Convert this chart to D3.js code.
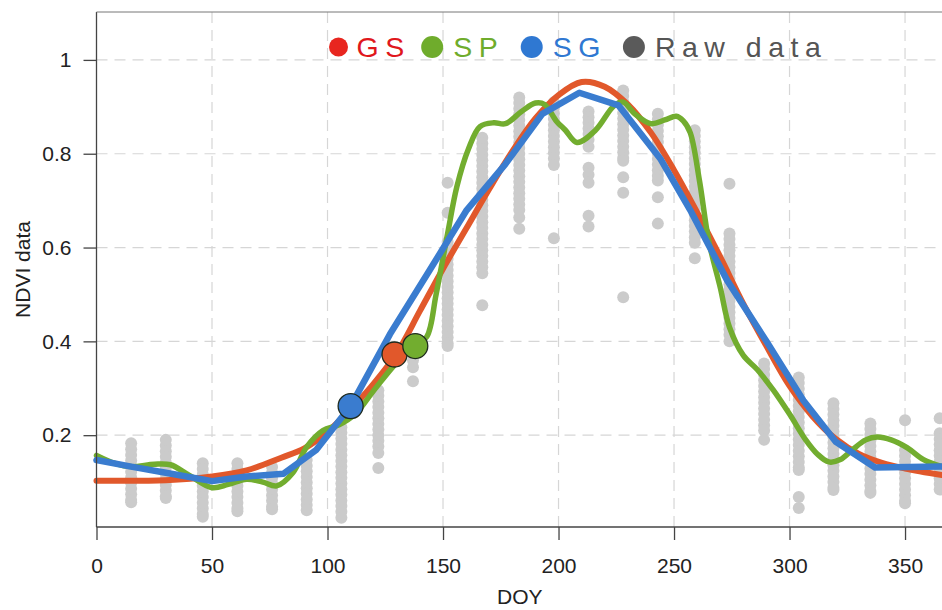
<!DOCTYPE html>
<html>
<head>
<meta charset="utf-8">
<script src="https://cdn.jsdelivr.net/npm/d3@7"></script>
<style>
  body { margin: 0; background: #fff; }
  text { font-family: "Liberation Sans", Arial, sans-serif; }
</style>
</head>
<body>
<div id="chart"></div>
<script>
// DATA

// raw NDVI observations, one column per composite day
var rawDoy = [15, 30, 46, 61, 76, 91, 106, 122, 137, 152, 167, 183, 198, 213, 228, 243, 259, 274, 289, 304, 319, 335, 350, 365];
var rawNdvi = [
  [0.183, 0.17, 0.158, 0.146, 0.134, 0.122, 0.11, 0.098, 0.086, 0.074, 0.062, 0.057],
  [0.19, 0.178, 0.166, 0.154, 0.142, 0.13, 0.118, 0.106, 0.094, 0.082, 0.07, 0.066],
  [0.14, 0.128, 0.116, 0.104, 0.092, 0.08, 0.068, 0.056, 0.044, 0.032, 0.026],
  [0.14, 0.128, 0.116, 0.104, 0.092, 0.08, 0.068, 0.056, 0.044, 0.038],
  [0.132, 0.12, 0.108, 0.096, 0.084, 0.072, 0.06, 0.048, 0.042],
  [0.147, 0.135, 0.123, 0.111, 0.099, 0.087, 0.075, 0.063, 0.051, 0.04],
  [0.217, 0.205, 0.193, 0.181, 0.169, 0.157, 0.145, 0.133, 0.121, 0.109, 0.097, 0.085, 0.073, 0.061, 0.049, 0.037, 0.024],
  [0.296, 0.284, 0.272, 0.26, 0.248, 0.236, 0.224, 0.212, 0.2, 0.188, 0.176, 0.162, 0.13],
  [0.36, 0.345, 0.315],
  [0.738, 0.674, 0.612, 0.6, 0.588, 0.576, 0.564, 0.552, 0.54, 0.528, 0.516, 0.504, 0.492, 0.48, 0.468, 0.456, 0.444, 0.432, 0.42, 0.408, 0.396, 0.39],
  [0.834, 0.822, 0.81, 0.798, 0.786, 0.774, 0.762, 0.75, 0.738, 0.726, 0.714, 0.702, 0.69, 0.678, 0.666, 0.654, 0.642, 0.63, 0.618, 0.606, 0.594, 0.582, 0.57, 0.558, 0.545, 0.477],
  [0.92, 0.908, 0.896, 0.884, 0.872, 0.86, 0.848, 0.836, 0.824, 0.812, 0.8, 0.788, 0.776, 0.764, 0.752, 0.74, 0.728, 0.716, 0.704, 0.692, 0.68, 0.664, 0.64],
  [0.91, 0.898, 0.886, 0.874, 0.862, 0.85, 0.838, 0.826, 0.814, 0.802, 0.79, 0.776, 0.62],
  [0.89, 0.878, 0.866, 0.854, 0.842, 0.83, 0.815, 0.77, 0.755, 0.738, 0.668, 0.645],
  [0.935, 0.923, 0.911, 0.899, 0.887, 0.875, 0.863, 0.851, 0.839, 0.827, 0.815, 0.803, 0.791, 0.785, 0.75, 0.717, 0.494],
  [0.885, 0.873, 0.861, 0.849, 0.837, 0.825, 0.813, 0.801, 0.789, 0.777, 0.765, 0.753, 0.743, 0.707, 0.651],
  [0.85, 0.838, 0.826, 0.814, 0.802, 0.79, 0.778, 0.766, 0.754, 0.742, 0.73, 0.718, 0.706, 0.694, 0.682, 0.67, 0.658, 0.646, 0.634, 0.622, 0.61, 0.577],
  [0.736, 0.63, 0.618, 0.606, 0.594, 0.582, 0.57, 0.558, 0.546, 0.534, 0.522, 0.51, 0.498, 0.486, 0.474, 0.462, 0.45, 0.438, 0.426, 0.414, 0.4],
  [0.353, 0.341, 0.329, 0.317, 0.305, 0.293, 0.281, 0.269, 0.257, 0.245, 0.233, 0.221, 0.21, 0.19],
  [0.323, 0.311, 0.299, 0.287, 0.275, 0.263, 0.251, 0.239, 0.227, 0.215, 0.203, 0.191, 0.179, 0.167, 0.155, 0.143, 0.131, 0.126, 0.068, 0.045],
  [0.268, 0.256, 0.244, 0.232, 0.22, 0.208, 0.196, 0.184, 0.172, 0.16, 0.148, 0.136, 0.124, 0.112, 0.1, 0.088, 0.083],
  [0.225, 0.213, 0.201, 0.189, 0.177, 0.165, 0.153, 0.141, 0.129, 0.117, 0.105, 0.093, 0.081, 0.077],
  [0.232, 0.168, 0.156, 0.144, 0.132, 0.12, 0.108, 0.096, 0.084, 0.072, 0.06, 0.055],
  [0.236, 0.204, 0.192, 0.18, 0.168, 0.156, 0.144, 0.132, 0.12, 0.108, 0.096, 0.084]
];

// GS fitted curve
var gsDoy  = [0, 30, 50, 65, 80, 90, 100, 110, 120, 130, 140, 150, 160, 170, 180, 190, 200, 210, 220, 230, 240, 250, 260, 270, 280, 290, 300, 310, 320, 330, 340, 350, 366];
var gsNdvi = [0.103, 0.104, 0.112, 0.125, 0.152, 0.172, 0.207, 0.255, 0.31, 0.375, 0.465, 0.555, 0.64, 0.725, 0.805, 0.875, 0.925, 0.953, 0.943, 0.905, 0.845, 0.765, 0.675, 0.58, 0.48, 0.39, 0.305, 0.24, 0.192, 0.16, 0.141, 0.129, 0.115];

// SP fitted curve
var spDoy  = [0, 8, 15, 25, 32, 40, 50, 57, 65, 72, 78, 85, 91, 98, 105, 112, 120, 130, 138, 143, 147, 152, 156, 161, 166, 172, 177, 184, 190, 194, 199, 203, 208, 216, 224, 228, 233, 240, 246, 251, 254, 257, 261, 265, 270, 274, 280, 286, 293, 300, 307, 312, 317, 322, 327, 333, 338, 344, 351, 358, 366];
var spNdvi = [0.157, 0.14, 0.133, 0.138, 0.137, 0.115, 0.088, 0.095, 0.106, 0.1, 0.092, 0.12, 0.175, 0.21, 0.222, 0.245, 0.295, 0.355, 0.39, 0.41, 0.5, 0.63, 0.73, 0.81, 0.858, 0.866, 0.864, 0.89, 0.908, 0.905, 0.87, 0.85, 0.824, 0.85, 0.902, 0.91, 0.885, 0.864, 0.872, 0.88, 0.87, 0.845, 0.743, 0.615, 0.515, 0.43, 0.37, 0.34, 0.296, 0.245, 0.19, 0.16, 0.143, 0.148, 0.168, 0.19, 0.196, 0.19, 0.173, 0.148, 0.133];

// SG fitted curve
var sgDoy  = [0, 15, 30, 50, 65, 81, 95, 110, 127, 144, 160, 177, 193, 209, 226, 244, 257, 273, 290, 306, 320, 337, 366];
var sgNdvi = [0.147, 0.133, 0.12, 0.102, 0.112, 0.118, 0.168, 0.262, 0.415, 0.55, 0.678, 0.778, 0.885, 0.93, 0.903, 0.79, 0.68, 0.53, 0.4, 0.274, 0.186, 0.131, 0.133];

// start of season markers
var markerNames = ['GS', 'SP', 'SG'];
var markerDoy   = [129, 138, 110];
var markerNdvi  = [0.372, 0.39, 0.262];

// legend
var legendLabels = ['GS', 'SP', 'SG', 'Raw data'];

var xTicks = [0, 50, 100, 150, 200, 250, 300, 350];
var yTicks = [0.2, 0.4, 0.6, 0.8, 1];

// GRAPHICS

var W = 942, H = 610;
var plotLeft = 96.5, plotBottom = 527, plotTop = 12;

var lineColor   = { GS: '#e1582b', SP: '#72ad2f', SG: '#3a7ccf' };
var legendColor = { GS: '#e8261f', SP: '#6fac2c', SG: '#2f78d2', 'Raw data': '#5a5a5a' };
var textColor   = { GS: '#e0171c', SP: '#6fac2c', SG: '#2f78d2', 'Raw data': '#555555' };

var svg = d3.select('#chart').append('svg').attr('width', W).attr('height', H);

var x = d3.scaleLinear().domain([0, 366]).range([plotLeft, 942]);
var y = d3.scaleLinear().domain([0, 1.1]).range([529, 13]);

// dashed grid
svg.append('g').selectAll('line').data(xTicks.slice(1)).enter().append('line')
  .attr('x1', function(d) { return x(d); }).attr('x2', function(d) { return x(d); })
  .attr('y1', plotTop).attr('y2', plotBottom)
  .style('stroke', '#d6d6d6').style('stroke-width', 1.2).style('stroke-dasharray', '11,7');

svg.append('g').selectAll('line').data(yTicks).enter().append('line')
  .attr('x1', plotLeft).attr('x2', W)
  .attr('y1', function(d) { return y(d); }).attr('y2', function(d) { return y(d); })
  .style('stroke', '#d6d6d6').style('stroke-width', 1.2).style('stroke-dasharray', '11,7');

// raw data dots
var rawPoints = [];
for (var i = 0; i < rawDoy.length; i++) {
  for (var j = 0; j < rawNdvi[i].length; j++) {
    rawPoints.push({ doy: rawDoy[i], ndvi: rawNdvi[i][j] });
  }
}
svg.append('g').selectAll('circle').data(rawPoints).enter().append('circle')
  .attr('cx', function(d) { return x(d.doy); })
  .attr('cy', function(d) { return y(d.ndvi); })
  .attr('r', 6)
  .style('fill', '#cbcbcb');

// fitted curves
function drawCurve(doys, vals, color, width, curve) {
  var line = d3.line()
    .x(function(d, i) { return x(doys[i]); })
    .y(function(d) { return y(d); })
    .curve(curve);
  svg.append('path').datum(vals)
    .attr('d', line)
    .style('fill', 'none')
    .style('stroke', color)
    .style('stroke-width', width)
    .style('stroke-linejoin', 'round')
    .style('stroke-linecap', 'round');
}

drawCurve(gsDoy, gsNdvi, lineColor.GS, 6, d3.curveCatmullRom);
drawCurve(spDoy, spNdvi, lineColor.SP, 5.5, d3.curveCatmullRom);
drawCurve(sgDoy, sgNdvi, lineColor.SG, 6.5, d3.curveLinear);

// markers
svg.append('g').selectAll('circle').data(markerNames).enter().append('circle')
  .attr('cx', function(d, i) { return x(markerDoy[i]); })
  .attr('cy', function(d, i) { return y(markerNdvi[i]); })
  .attr('r', 12.5)
  .style('fill', function(d) { return lineColor[d]; })
  .style('stroke', '#1e2a1e')
  .style('stroke-width', 1.3);

// axes frame
svg.append('line').attr('x1', plotLeft).attr('x2', plotLeft).attr('y1', plotTop).attr('y2', plotBottom)
  .style('stroke', '#444').style('stroke-width', 1.3);
svg.append('line').attr('x1', plotLeft).attr('x2', W).attr('y1', plotBottom).attr('y2', plotBottom)
  .style('stroke', '#444').style('stroke-width', 1.3);
svg.append('line').attr('x1', plotLeft).attr('x2', W).attr('y1', plotTop).attr('y2', plotTop)
  .style('stroke', '#777').style('stroke-width', 1);

var xAxis = d3.axisBottom(x).tickValues(xTicks).tickSize(13).tickPadding(18).tickSizeOuter(0);
var yAxis = d3.axisLeft(y).tickValues(yTicks).tickSize(13).tickPadding(12).tickSizeOuter(0)
  .tickFormat(function(d) { return d === 1 ? '1' : d3.format('.1f')(d); });

var gx = svg.append('g').attr('transform', 'translate(0,' + plotBottom + ')').call(xAxis);
var gy = svg.append('g').attr('transform', 'translate(' + plotLeft + ',0)').call(yAxis);

[gx, gy].forEach(function(g) {
  g.select('.domain').remove();
  g.selectAll('line').style('stroke', '#444').style('stroke-width', 1.3);
  g.selectAll('text').style('font-size', '21px').style('fill', '#222')
    .style('font-family', '"Liberation Sans", Arial, sans-serif');
});

// axis titles
svg.append('text').attr('x', (plotLeft + 943) / 2).attr('y', 604)
  .attr('text-anchor', 'middle').style('font-size', '21px').style('fill', '#222').text('DOY');

svg.append('text').attr('transform', 'translate(30,' + ((plotTop + plotBottom) / 2) + ') rotate(-90)')
  .attr('text-anchor', 'middle').style('font-size', '21px').style('fill', '#222').text('NDVI data');

// legend
var legendGap = [10.5, 16.5, 16, 0];
var cursor = 329;
legendLabels.forEach(function(lab, i) {
  var r = i === 0 ? 9.5 : 11;
  var cx = cursor + r;
  svg.append('circle').attr('cx', cx).attr('cy', 47).attr('r', r).style('fill', legendColor[lab]);
  var tx = cx + (i === 0 ? 18 : 21);
  var t = svg.append('text').attr('x', tx).attr('y', 57)
    .style('font-size', '28.5px').style('letter-spacing', '6.5px')
    .style('fill', textColor[lab]).text(lab);
  cursor = tx + t.node().getComputedTextLength() + legendGap[i];
});
</script>
</body>
</html>
